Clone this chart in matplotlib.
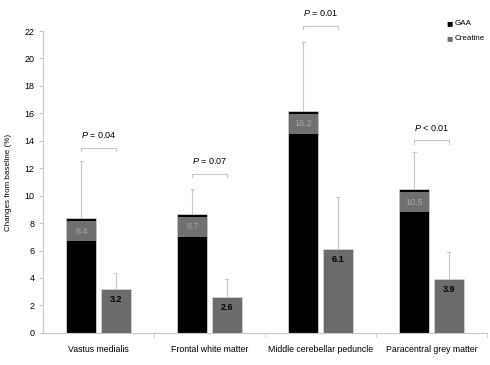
import matplotlib
matplotlib.use("Agg")
import matplotlib.pyplot as plt
import numpy as np

plt.rcParams['font.family'] = ['Liberation Sans', 'DejaVu Sans']
plt.rcParams['mathtext.fontset'] = 'custom'
plt.rcParams['mathtext.it'] = 'Liberation Sans:italic'
plt.rcParams['mathtext.rm'] = 'Liberation Sans'

# data
regions = ['Vastus medialis', 'Frontal white matter',
           'Middle cerebellar peduncle', 'Paracentral grey matter']
gaa = [8.4, 8.7, 16.2, 10.5]
gaa_err_top = [12.5, 10.5, 21.2, 13.2]
creatine = [3.2, 2.6, 6.1, 3.9]
creatine_err_top = [4.4, 3.9, 9.9, 5.9]
p_labels = ['= 0.04', '= 0.07', '= 0.01', '< 0.01']
p_levels = [13.5, 11.6, 22.4, 14.05]

x = np.arange(len(regions))
w = 0.27
off = 0.155
line_grey = '#c8c8c8'
bar_grey = '#6b6b6b'

fig = plt.figure(figsize=(4.9, 3.65), dpi=100)
ax = fig.add_axes([0.088, 0.088, 0.906, 0.827])

ax.bar(x - off, gaa, w, color='black', edgecolor='#e0e0e0', linewidth=0.5, zorder=2)
ax.bar(x + off, creatine, w, color=bar_grey, edgecolor='#d8d8d8', linewidth=0.5, zorder=2)

# grey label boxes on the GAA bars
box_h = 1.45
ax.bar(x - off, [box_h] * len(gaa), w - 0.01, bottom=np.array(gaa) - 0.25 - box_h,
       color='#707070', linewidth=0, zorder=3)
for xi, v in zip(x, gaa):
    ax.text(xi - off, v - 0.25 - box_h / 2, f'{v:.1f}', ha='center', va='center',
            color='#a8a8a8', fontsize=6.5, zorder=4)
for xi, v in zip(x, creatine):
    ax.text(xi + off, v - 0.75, f'{v:.1f}', ha='center', va='center',
            color='black', fontsize=6.5, fontweight='bold', zorder=4)

# upper error bars
for xs, vals, tops in [(x - off, gaa, gaa_err_top), (x + off, creatine, creatine_err_top)]:
    for xi, v, t in zip(xs, vals, tops):
        ax.plot([xi, xi], [v, t], color=line_grey, lw=0.8, zorder=1)
        ax.plot([xi - 0.015, xi + 0.015], [t, t], color=line_grey, lw=0.8, zorder=1)

# significance brackets
for xi, lvl, pl in zip(x, p_levels, p_labels):
    x0, x1 = xi - off, xi + off
    ax.plot([x0, x0, x1, x1], [lvl - 0.25, lvl, lvl, lvl - 0.25],
            color=line_grey, lw=0.8, clip_on=False)
    ax.text(xi, lvl + 0.55, f'$P$ {pl}', ha='center', va='bottom',
            fontsize=6.5, clip_on=False)

ax.set_xlim(-0.5, 3.5)
ax.set_ylim(0, 22)
ax.set_yticks(np.arange(0, 23, 2))
ax.set_xticks(x)
ax.set_xticklabels(regions, fontsize=6.3)
ax.set_xticks(np.arange(0.5, 4, 1), minor=True)
ax.tick_params(axis='x', which='major', length=0, pad=9)
ax.tick_params(axis='x', which='minor', length=3, color=line_grey)
ax.tick_params(axis='y', labelsize=6.5, length=3, color=line_grey, pad=3)
for s in ['top', 'right']:
    ax.spines[s].set_visible(False)
for s in ['left', 'bottom']:
    ax.spines[s].set_color(line_grey)
    ax.spines[s].set_linewidth(0.8)
ax.set_ylabel('Changes from baseline (%)', fontsize=5.8, labelpad=9)

# legend
fig.text(0.910, 0.936, '■', color='black', fontsize=7.5, va='center', ha='left')
fig.text(0.927, 0.936, 'GAA', fontsize=5.8, va='center', ha='left')
fig.text(0.910, 0.895, '■', color=bar_grey, fontsize=7.5, va='center', ha='left')
fig.text(0.927, 0.895, 'Creatine', fontsize=5.8, va='center', ha='left')

fig.savefig('out.png', dpi=100)
